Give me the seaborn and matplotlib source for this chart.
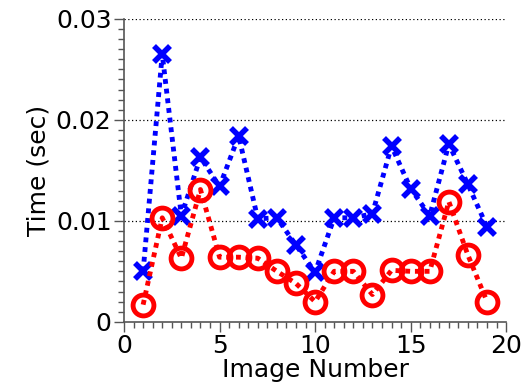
import matplotlib
matplotlib.use("Agg")
import matplotlib.pyplot as plt
import numpy as np
import pandas as pd
import seaborn as sns
from matplotlib.ticker import MultipleLocator

image_number = list(range(1, 20))
time_blue = [0.0050, 0.0265, 0.0105, 0.0163, 0.0134, 0.0184, 0.0102, 0.0103, 0.0076, 0.0049,
             0.0103, 0.0103, 0.0107, 0.0174, 0.0132, 0.0105, 0.0176, 0.0136, 0.0094]
time_red = [0.0017, 0.0103, 0.0063, 0.0131, 0.0064, 0.0064, 0.0063, 0.0050, 0.0038, 0.0020,
            0.0050, 0.0050, 0.0027, 0.0051, 0.0050, 0.0050, 0.0119, 0.0066, 0.0020]

df = pd.DataFrame({"image": image_number, "blue": time_blue, "red": time_red})

sns.set_theme(style="white")
plt.rcParams['font.family'] = ['DejaVu Sans']
plt.rcParams['text.color'] = 'black'
plt.rcParams['axes.labelcolor'] = 'black'
plt.rcParams['xtick.color'] = 'black'
plt.rcParams['ytick.color'] = 'black'

fig = plt.figure(figsize=(5.3, 3.92), dpi=100)
ax = fig.add_axes([0.234, 0.179, 0.721, 0.773])

# dotted grid lines at the major y ticks
for yv in [0.01, 0.02, 0.03]:
    ax.plot([0, 20], [yv, yv], color='black', linestyle=(0, (1, 2)), linewidth=0.9, zorder=1)

sns.lineplot(data=df, x="image", y="blue", ax=ax, color='blue', linewidth=3.5,
             linestyle=(0, (1, 1)), marker='x', markersize=12, markeredgewidth=4,
             markeredgecolor='blue', zorder=3)
sns.lineplot(data=df, x="image", y="red", ax=ax, color='red', linewidth=3.5,
             linestyle=(0, (1, 1)), marker='o', markersize=15, markeredgewidth=3.5,
             markerfacecolor='none', markeredgecolor='red', zorder=4)

ax.set_xlim(0, 20)
ax.set_ylim(0, 0.03)
ax.set_xticks([0, 5, 10, 15, 20])
ax.set_yticks([0, 0.01, 0.02, 0.03])
ax.set_yticklabels(['0', '0.01', '0.02', '0.03'])
ax.xaxis.set_minor_locator(MultipleLocator(0.5))
ax.yaxis.set_minor_locator(MultipleLocator(0.001))
ax.tick_params(which='major', direction='out', length=7, width=1, color='#555555',
               labelcolor='black', labelsize=18, pad=2, bottom=True, left=True)
ax.tick_params(which='minor', direction='out', length=4, width=1, color='#555555',
               bottom=True, left=True)

for side in ['top', 'right']:
    ax.spines[side].set_visible(False)
for side in ['left', 'bottom']:
    ax.spines[side].set_color('#555555')
    ax.spines[side].set_linewidth(1.2)

ax.set_xlabel('Image Number', fontsize=18, labelpad=0, color='black')
ax.set_ylabel('Time (sec)', fontsize=18, labelpad=4, color='black')

fig.savefig('out.png', dpi=100)
